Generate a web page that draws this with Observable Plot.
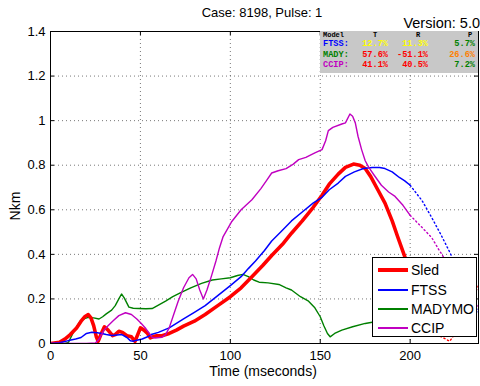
<!DOCTYPE html>
<html>
<head>
<meta charset="utf-8">
<script src="https://cdn.jsdelivr.net/npm/d3@7"></script>
<script src="https://cdn.jsdelivr.net/npm/@observablehq/plot@0.6"></script>
<style>
  html, body { margin: 0; padding: 0; background: #fff; }
  #wrap { position: relative; width: 480px; height: 386px; overflow: hidden; font-family: "Liberation Sans", Arial, sans-serif; color: #000; }
  #chart { position: absolute; left: 0; top: 0; }
  .ov { position: absolute; white-space: nowrap; }
  #table { position: absolute; left: 320px; top: 31px; width: 158px; height: 42px; background: #c8c8c8; overflow: hidden;
           font-family: "Liberation Mono", "Courier New", monospace; font-weight: bold; font-size: 8.6px; }
  #table span { position: absolute; white-space: nowrap; line-height: 1; }
  #table span.hd { font-size: 7px; }
  #legend { position: absolute; left: 372px; top: 257px; width: 105px; height: 80px; background: #fff; border: 1px solid #000; box-sizing: border-box; }
  .li { position: absolute; left: 0; height: 16px; width: 100%; }
  .li .sw { position: absolute; left: 5px; width: 30px; top: 50%; }
  .li .lb { position: absolute; left: 38px; top: 0; font-size: 14px; line-height: 16px; }
</style>
</head>
<body>
<div id="wrap">
  <div id="chart"></div>
</div>
<script>
// ---------------- data ----------------
const titleText = "Case: 8198, Pulse: 1";
const versionText = "Version: 5.0";
const xLabel = "Time (mseconds)";
const yLabel = "Nkm";
const xTicks = [0, 50, 100, 150, 200];
const yTicks = [0, 0.2, 0.4, 0.6, 0.8, 1, 1.2, 1.4];
const xDomain = [0, 238];
const yDomain = [0, 1.4];

const seriesNames = ["Sled", "FTSS", "MADYMO", "CCIP"];
const seriesColors = ["#ff0000", "#0000ff", "#008000", "#c000c0"];

// [time (ms), Nkm]
const sled = [[0,0],[5,0.005],[8,0.02],[11,0.04],[14.5,0.07],[17,0.1],[19,0.12],[21,0.13],[22.5,0.115],[24,0.08],[25.5,0.03],[26.5,0.01],[28,0.04],[30,0.075],[32,0.06],[34.5,0.035],[36,0.04],[38,0.055],[40,0.05],[42.5,0.035],[45,0.03],[47,0.01],[48.5,0.04],[50,0.07],[52,0.06],[54,0.045],[55.5,0.025],[57,0.03],[59,0.035],[62,0.035],[66,0.045],[70,0.06],[74,0.078],[80,0.1],[86,0.13],[93,0.17],[100,0.21],[106,0.25],[112,0.3],[118,0.35],[123,0.395],[129,0.445],[134,0.495],[140,0.55],[146,0.61],[151,0.665],[155,0.715],[160,0.76],[164,0.79],[168.5,0.805],[172,0.8],[175,0.785],[178,0.75],[182,0.69],[186,0.63],[190,0.55],[193,0.48],[197,0.39],[200,0.32]];
const sledAfter = [[200,0.32],[205,0.2],[210,0.1],[215,0.04],[222,0.01],[228,0.08],[233,0.17],[238,0.26]];

const ftss = [[0,0],[5,0.003],[10,0.013],[14,0.02],[17,0.027],[20,0.045],[23,0.05],[26,0.048],[28.5,0.045],[31,0.04],[34,0.036],[37,0.038],[39.7,0.04],[42.5,0.027],[44.5,0.012],[46,0.01],[48,0.015],[51,0.02],[54,0.03],[56,0.04],[60,0.05],[66,0.07],[74,0.11],[80,0.14],[86,0.17],[93,0.215],[100,0.26],[106,0.3],[110,0.336],[114,0.37],[119,0.417],[123,0.46],[128,0.5],[134,0.55],[140,0.59],[146,0.63],[151,0.656],[155,0.69],[160,0.72],[164,0.75],[169,0.77],[174,0.785],[179,0.79],[183,0.79],[186,0.785],[190,0.77],[194,0.745],[197,0.73],[200,0.71]];
const ftssAfter = [[200,0.71],[206.7,0.64],[212,0.565],[217,0.49],[222,0.41],[226,0.34],[230,0.27],[234,0.2],[238,0.14]];

const madymo = [[0,0],[8,0],[10,0.005],[13,0.055],[16.5,0.1],[19,0.112],[21,0.117],[24,0.115],[27,0.11],[29,0.12],[31,0.133],[34,0.15],[36,0.17],[38,0.2],[39.5,0.222],[41,0.205],[43.6,0.163],[46,0.158],[49,0.157],[53,0.156],[56.5,0.157],[60,0.172],[64,0.19],[68,0.21],[73,0.23],[78,0.25],[84,0.27],[90,0.285],[95,0.29],[100,0.295],[104,0.305],[107,0.31],[110,0.3],[113,0.285],[116,0.275],[121,0.272],[127,0.265],[131,0.25],[134,0.24],[139,0.21],[143.5,0.19],[147,0.16],[150,0.12],[152,0.08],[154,0.045],[155.5,0.03],[158,0.045],[162,0.06],[168,0.075],[175,0.09],[182,0.1],[190,0.115],[196,0.13],[200,0.14]];

const ccip = [[0,0],[20,0],[25,0.002],[27,0.02],[29.6,0.058],[32,0.08],[35,0.103],[38,0.125],[41.7,0.138],[45,0.13],[48,0.11],[50.5,0.09],[53,0.067],[55,0.045],[56.5,0.027],[58,0.025],[62,0.028],[64,0.04],[66,0.07],[68.5,0.13],[71,0.19],[74,0.25],[77,0.295],[79,0.31],[81,0.29],[83,0.24],[85,0.2],[87,0.24],[89.4,0.3],[92,0.37],[94,0.43],[96,0.48],[100.6,0.545],[106,0.6],[112,0.645],[117,0.695],[120,0.73],[123,0.765],[126.6,0.775],[131,0.785],[135,0.805],[138,0.825],[142,0.835],[147,0.855],[151,0.87],[153,0.91],[154.5,0.955],[157,0.97],[162,0.985],[164,0.99],[166.5,1.03],[168,1.02],[169.5,0.99],[171,0.93],[173,0.87],[175,0.82],[177,0.79],[180,0.755],[184,0.71],[188,0.68],[191.6,0.66],[196,0.62],[200,0.575]];
const ccipAfter = [[200,0.575],[206.7,0.52],[212,0.475],[216,0.42],[220,0.37],[226,0.3],[232,0.23],[238,0.16]];

// comparison table
const tableHeader = ["Model", "T", "R", "P"];
const tableModels = ["FTSS:", "MADY:", "CCIP:"];
const tableModelColors = ["#0000ff", "#008000", "#c000c0"];
const tableT = ["12.7%", "57.6%", "41.1%"];
const tableR = ["11.3%", "-51.1%", "40.5%"];
const tableP = ["5.7%", "26.6%", "7.2%"];
const tableTColors = ["#ffff00", "#ff0000", "#ff0000"];
const tableRColors = ["#ffff00", "#ff0000", "#ff0000"];
const tablePColors = ["#008000", "#ff8000", "#008000"];

// ---------------- chart ----------------
const W = 480, H = 386, mL = 50, mR = 2, mT = 31, mB = 43;
const fw = W - mL - mR, fh = H - mT - mB;
const X = d => d[0], Y = d => d[1];
const dotted = "1.2,2.8";

const plot = Plot.plot({
  width: W, height: H,
  marginLeft: mL, marginRight: mR, marginTop: mT, marginBottom: mB,
  x: {domain: xDomain},
  y: {domain: yDomain},
  style: {fontFamily: "'Liberation Sans', Arial, sans-serif", fontSize: "13px", background: "#fff", color: "#000", overflow: "visible"},
  marks: [
    Plot.gridX(xTicks.filter(d => d > xDomain[0] && d < xDomain[1]), {stroke: "#555", strokeOpacity: 1, strokeWidth: 0.8, strokeDasharray: "1,3"}),
    Plot.gridY(yTicks.filter(d => d > yDomain[0] && d < yDomain[1]), {stroke: "#555", strokeOpacity: 1, strokeWidth: 0.8, strokeDasharray: "1,3"}),
    Plot.line(madymo, {x: X, y: Y, stroke: seriesColors[2], strokeWidth: 1.4, clip: true}),
    Plot.line(ccipAfter, {x: X, y: Y, stroke: seriesColors[3], strokeWidth: 1.4, strokeDasharray: dotted, clip: true}),
    Plot.line(ftssAfter, {x: X, y: Y, stroke: seriesColors[1], strokeWidth: 1.4, strokeDasharray: dotted, clip: true}),
    Plot.line(sledAfter, {x: X, y: Y, stroke: seriesColors[0], strokeWidth: 1.4, strokeDasharray: dotted, clip: true}),
    Plot.line(sled, {x: X, y: Y, stroke: seriesColors[0], strokeWidth: 3.6, clip: true}),
    Plot.line(ftss, {x: X, y: Y, stroke: seriesColors[1], strokeWidth: 1.5, clip: true}),
    Plot.line(ccip, {x: X, y: Y, stroke: seriesColors[3], strokeWidth: 1.4, clip: true}),
    Plot.tickX(xTicks, {x: d => d, stroke: "#000", insetTop: fh - 4}),
    Plot.tickX(xTicks, {x: d => d, stroke: "#000", insetBottom: fh - 4}),
    Plot.tickY(yTicks, {y: d => d, stroke: "#000", insetRight: fw - 4}),
    Plot.tickY(yTicks, {y: d => d, stroke: "#000", insetLeft: fw - 4}),
    Plot.frame({stroke: "#000", strokeWidth: 1}),
    Plot.axisX(xTicks, {tickSize: 0, tickPadding: 7, label: null, tickFormat: d => String(d)}),
    Plot.axisY(yTicks, {tickSize: 0, tickPadding: 5, label: null, tickFormat: d => String(d)})
  ]
});
document.getElementById("chart").appendChild(plot);

const wrap = document.getElementById("wrap");
function addText(txt, css) {
  const d = document.createElement("div");
  d.className = "ov";
  d.textContent = txt;
  Object.assign(d.style, css);
  wrap.appendChild(d);
  return d;
}
addText(titleText, {left: "0px", width: "524px", top: "5px", textAlign: "center", fontSize: "13px", lineHeight: "15px"});
addText(versionText, {right: "0px", top: "16px", fontSize: "14.5px", lineHeight: "14px"});
addText(xLabel, {left: "0px", width: "526px", top: "364px", textAlign: "center", fontSize: "14px", lineHeight: "15px"});
addText(yLabel, {left: "15px", top: "206px", fontSize: "14px", lineHeight: "16px", transform: "translate(-50%,-50%) rotate(-90deg)"});

// table
const table = document.createElement("div");
table.id = "table";
wrap.appendChild(table);
function cell(txt, color, x, top, align, cls) {
  const s = document.createElement("span");
  s.textContent = txt;
  s.style.color = color;
  if (cls) s.className = cls;
  s.style.top = top + "px";
  if (align === "right") s.style.right = (158 - (x - 320)) + "px";
  else if (align === "center") { s.style.left = (x - 320) + "px"; s.style.transform = "translateX(-50%)"; }
  else s.style.left = (x - 320) + "px";
  table.appendChild(s);
}
cell(tableHeader[0], "#000", 323, 0.5, "left", "hd");
cell(tableHeader[1], "#000", 375, 0.5, "center", "hd");
cell(tableHeader[2], "#000", 418, 0.5, "center", "hd");
cell(tableHeader[3], "#000", 470, 0.5, "center", "hd");
const rowTop = [8.5, 19.5, 30];
tableModels.forEach((m, i) => {
  cell(m, tableModelColors[i], 323, rowTop[i], "left");
  cell(tableT[i], tableTColors[i], 388, rowTop[i], "right");
  cell(tableR[i], tableRColors[i], 428, rowTop[i], "right");
  cell(tableP[i], tablePColors[i], 475, rowTop[i], "right");
});

// legend
const legend = document.createElement("div");
legend.id = "legend";
wrap.appendChild(legend);
const legendTops = [4, 24, 43, 62];
const legendWidths = [4, 2, 2, 2];
seriesNames.forEach((n, i) => {
  const li = document.createElement("div");
  li.className = "li";
  li.style.top = legendTops[i] + "px";
  const sw = document.createElement("div");
  sw.className = "sw";
  sw.style.borderTop = legendWidths[i] + "px solid " + seriesColors[i];
  sw.style.marginTop = (-legendWidths[i] / 2) + "px";
  const lb = document.createElement("div");
  lb.className = "lb";
  lb.textContent = n;
  li.appendChild(sw);
  li.appendChild(lb);
  legend.appendChild(li);
});
</script>
</body>
</html>
